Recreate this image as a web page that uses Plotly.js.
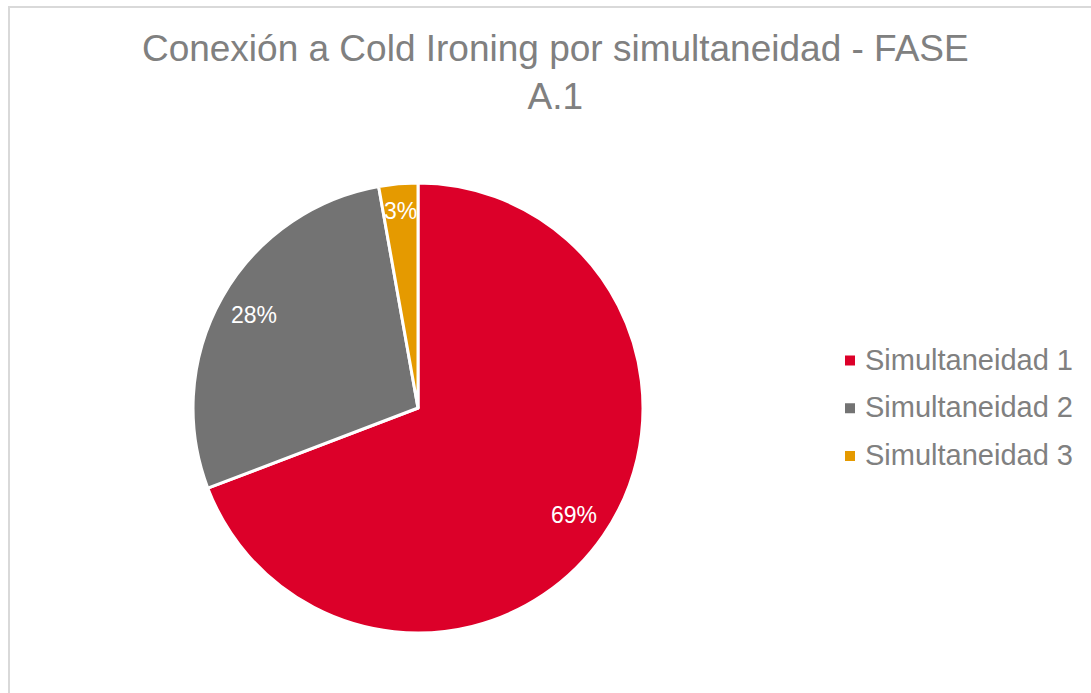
<!DOCTYPE html>
<html>
<head>
<meta charset="utf-8">
<script src="https://cdn.plot.ly/plotly-3.0.1.min.js"></script>
<style>
  html, body { margin: 0; padding: 0; background: #fff; overflow: hidden; }
  #wrap { position: relative; width: 1091px; height: 693px; }
  #frame { position: absolute; left: 8px; top: 6px; width: 1200px; height: 800px;
           border: 2px solid #d9d9d9; box-sizing: border-box; pointer-events: none; }
  #chart { position: absolute; left: 0; top: 0; width: 1091px; height: 693px; }
</style>
</head>
<body>
<div id="wrap">
  <div id="chart"></div>
  <div id="frame"></div>
</div>
<script>
// data
const labels = ['Simultaneidad 1', 'Simultaneidad 2', 'Simultaneidad 3'];
const shares = [69.2, 28.0, 2.8];
const colours = ['#dc0029', '#737373', '#e59a00'];

const title_text = 'Conexión a Cold Ironing por simultaneidad - FASE<br>A.1';
const font_family = '"Liberation Sans", Arial, sans-serif';
const grey_text = '#808080';

const W = 1091, H = 693;
const pie_domain = {x: [0.1769, 0.5894], y: [0.0866, 0.7359]};

/* helpers */
const px_x = x => x / W;
const px_y = y => 1 - y / H;

// percent labels placed out towards the rim, like the original (Excel "best fit")
const slice_labels = () => {
  const total = shares.reduce((a, b) => a + b, 0);
  const cx = (pie_domain.x[0] + pie_domain.x[1]) / 2 * W;
  const cy = (1 - (pie_domain.y[0] + pie_domain.y[1]) / 2) * H;
  const r = Math.min((pie_domain.x[1] - pie_domain.x[0]) * W, (pie_domain.y[1] - pie_domain.y[0]) * H) / 2;
  let start = 0;
  return shares.map(v => {
    const frac = v / total;
    const mid = (start + frac / 2) * 2 * Math.PI;
    start += frac;
    const k = frac < 0.05 ? 0.88 : 0.84;
    return {
      text: `${Math.round(frac * 100)}%`,
      x: px_x(cx + Math.sin(mid) * r * k),
      y: px_y(cy - Math.cos(mid) * r * k),
      xref: 'paper', yref: 'paper',
      xanchor: 'center', yanchor: 'middle',
      showarrow: false,
      font: {size: 23, color: '#ffffff', family: font_family},
    };
  });
};

// legend drawn by hand so the row spacing matches the original
const legend_x = 845, legend_top = 359.5, legend_step = 47.75, box = 10;
const legend_shapes = labels.map((_, i) => ({
  type: 'rect', xref: 'paper', yref: 'paper',
  x0: px_x(legend_x), x1: px_x(legend_x + box),
  y0: px_y(legend_top + i * legend_step + 1 - box / 2), y1: px_y(legend_top + i * legend_step + 1 + box / 2),
  fillcolor: colours[i], line: {width: 0},
}));
const legend_texts = labels.map((lab, i) => ({
  text: lab,
  x: px_x(legend_x + 18), y: px_y(legend_top + i * legend_step),
  xref: 'paper', yref: 'paper',
  xanchor: 'left', yanchor: 'middle',
  showarrow: false,
  font: {size: 29, color: grey_text, family: font_family},
}));

const pie = {
  type: 'pie',
  labels: labels,
  values: shares,
  sort: false,
  direction: 'clockwise',
  rotation: 0,
  marker: {
    colors: colours,
    line: {color: '#ffffff', width: 3},
  },
  textinfo: 'none',
  domain: pie_domain,
  hoverinfo: 'label+percent',
};

const layout = {
  width: W,
  height: H,
  margin: {l: 0, r: 0, t: 0, b: 0},
  paper_bgcolor: 'rgba(0,0,0,0)',
  font: {family: font_family, color: grey_text},
  title: {
    text: title_text,
    font: {size: 37, color: grey_text, family: font_family},
    x: 0.509,
    xanchor: 'center',
    y: 0.912,
    yanchor: 'top',
  },
  showlegend: false,
  shapes: legend_shapes,
  annotations: [...slice_labels(), ...legend_texts],
};

Plotly.newPlot('chart', [pie], layout, {displayModeBar: false, staticPlot: true});
</script>
</body>
</html>
